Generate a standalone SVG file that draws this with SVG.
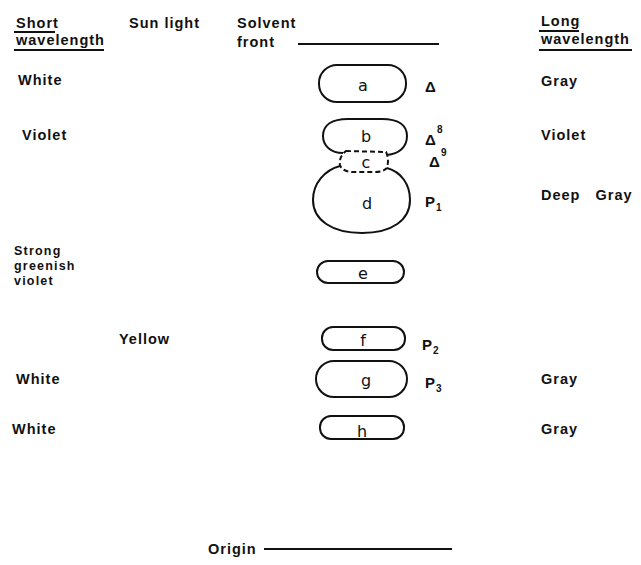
<svg xmlns="http://www.w3.org/2000/svg" width="641" height="565" viewBox="0 0 641 565">
<style>
.t{font-family:"Liberation Sans",Arial,sans-serif;font-size:14.5px;font-weight:bold;letter-spacing:1px;fill:#111}
.t2{font-family:"Liberation Sans",Arial,sans-serif;font-size:12.5px;font-weight:bold;letter-spacing:1.2px;fill:#111}
.n{font-family:"DejaVu Sans","Liberation Sans",sans-serif;font-size:16px;fill:#111;text-anchor:middle}
.s{font-family:"Liberation Sans",Arial,sans-serif;font-size:15px;font-weight:bold;fill:#111}
.sub{font-family:"Liberation Sans",Arial,sans-serif;font-size:10px;font-weight:bold;fill:#111}
.o{fill:none;stroke:#111;stroke-width:2}
.d{fill:none;stroke:#111;stroke-width:2;stroke-dasharray:5 3}
.l{stroke:#111;stroke-width:2}
</style>
<rect width="641" height="565" fill="#fff"/>
<g id="headers">
<text class="t" x="16" y="28">Short</text>
<line class="l" x1="14" y1="32" x2="55" y2="32"/>
<text class="t" x="16" y="45">wavelength</text>
<line class="l" x1="14" y1="50" x2="104" y2="50"/>
<text class="t" x="129" y="28">Sun light</text>
<text class="t" x="237" y="28">Solvent</text>
<text class="t" x="237" y="47">front</text>
<text class="t" x="541" y="26">Long</text>
<line class="l" x1="539" y1="31" x2="579" y2="31"/>
<text class="t" x="541" y="44">wavelength</text>
<line class="l" x1="539" y1="50" x2="632" y2="50"/>
</g>
<g id="left-labels">
<text class="t" x="18" y="85">White</text>
<text class="t" x="22" y="140">Violet</text>
<text class="t2" x="14" y="255">Strong</text>
<text class="t2" x="14" y="270">greenish</text>
<text class="t2" x="14" y="285">violet</text>
<text class="t" x="119" y="344">Yellow</text>
<text class="t" x="16" y="384">White</text>
<text class="t" x="12" y="434">White</text>
</g>
<g id="right-labels">
<text class="t" x="541" y="86">Gray</text>
<text class="t" x="541" y="140">Violet</text>
<text class="t" x="541" y="200" xml:space="preserve">Deep   Gray</text>
<text class="t" x="541" y="384">Gray</text>
<text class="t" x="541" y="434">Gray</text>
</g>
<g id="connectors">
<line class="l" x1="298" y1="44" x2="439" y2="44"/>
<line class="l" x1="264" y1="549" x2="452" y2="549"/>
<text class="t" x="208" y="554">Origin</text>
</g>
<g id="node-a">
<rect class="o" x="319" y="65" width="87" height="37" rx="18"/>
<text class="n" x="363" y="91">a</text>
<text class="s" x="425" y="92">Δ</text>
</g>
<g id="node-b">
<path class="o" d="M343 153 C331 153 323 146 323 136 C323 125 332 119 348 119 L382 119 C398 119 407 125 407 136 C407 147 399 154 387 155"/>
<text class="n" x="366" y="142">b</text>
<text class="s" x="425" y="145">Δ</text>
<text class="sub" x="437" y="133">8</text>
</g>
<g id="node-c">
<path class="d" d="M346 151 L386 152 C389 158 388 164 387 168 C384 171 380 172 375 172 L352 172 C346 172 341 169 340 165 C339 160 341 155 346 151 Z"/>
<text class="n" x="366" y="168">c</text>
<text class="s" x="429" y="167">Δ</text>
<text class="sub" x="441" y="156">9</text>
</g>
<g id="node-d">
<path class="o" d="M340 166 C325 170 313 183 313 200 C313 220 332 233 362 233 C392 233 410 220 410 200 C410 184 401 172 387 168"/>
<text class="n" x="367" y="209">d</text>
<text class="s" x="425" y="207">P</text>
<text class="sub" x="436" y="211">1</text>
</g>
<g id="node-e">
<rect class="o" x="317" y="261" width="87" height="22" rx="11"/>
<text class="n" x="363" y="279">e</text>
</g>
<g id="node-f">
<rect class="o" x="322" y="327" width="83" height="23" rx="11"/>
<text class="n" x="363" y="346">f</text>
<text class="s" x="422" y="350">P</text>
<text class="sub" x="433" y="354">2</text>
</g>
<g id="node-g">
<rect class="o" x="316" y="361" width="91" height="36" rx="18"/>
<text class="n" x="366" y="386">g</text>
<text class="s" x="425" y="388">P</text>
<text class="sub" x="436" y="392">3</text>
</g>
<g id="node-h">
<rect class="o" x="320" y="416" width="84" height="23" rx="11"/>
<text class="n" x="362" y="437">h</text>
</g>
</svg>
